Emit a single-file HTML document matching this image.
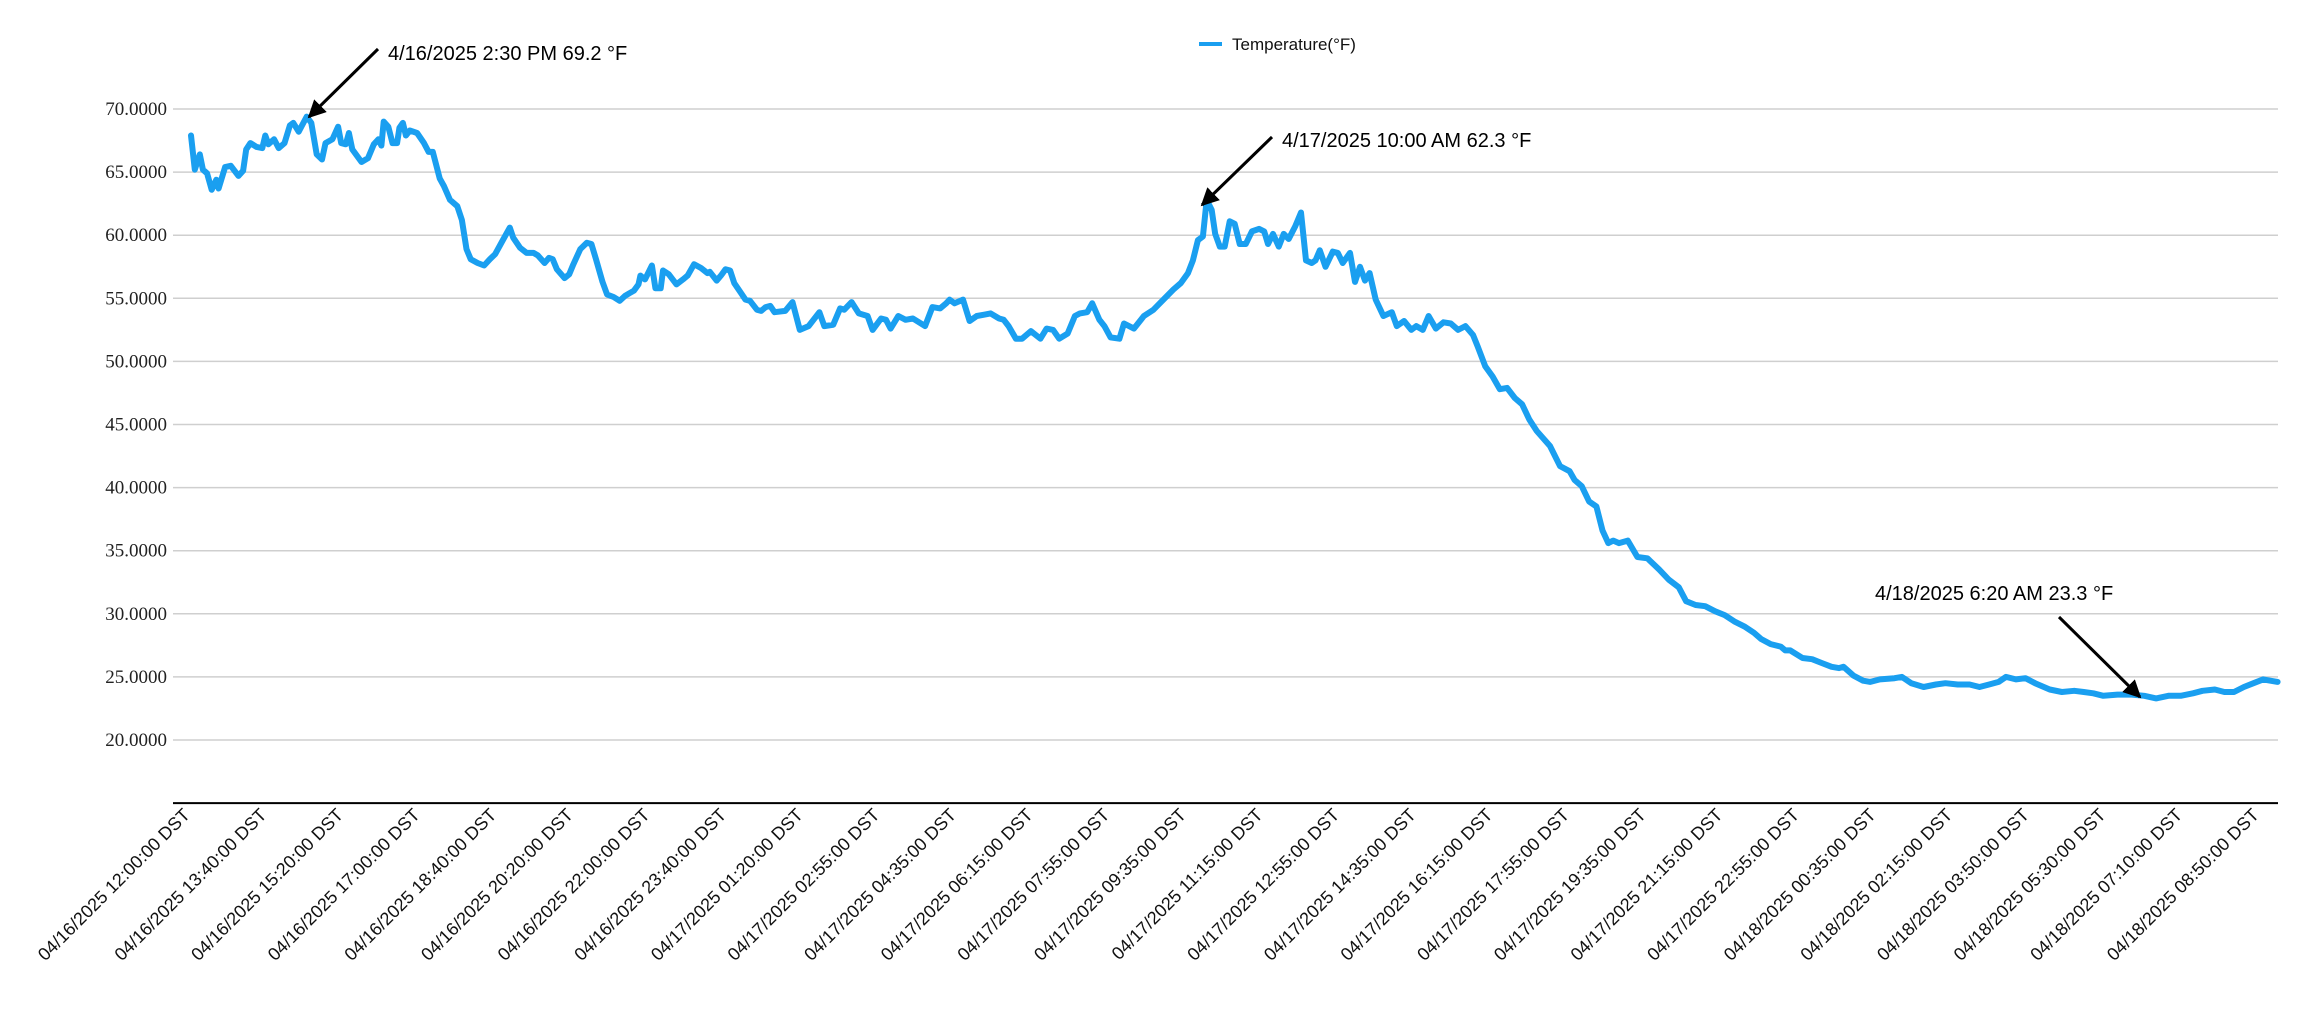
<!DOCTYPE html>
<html><head><meta charset="utf-8"><title>Temperature chart</title>
<style>html,body{margin:0;padding:0;background:#fff}svg{display:block}</style></head>
<body>
<svg id="chart" width="2312" height="1018" viewBox="0 0 2312 1018" xmlns="http://www.w3.org/2000/svg">
<g id="grid"></g>
<g id="yaxis"></g>
<g id="xaxis"></g>
<g id="series"></g>
<g>
<line x1="1199" y1="44" x2="1222" y2="44" stroke="#1a9ff0" stroke-width="4"/>
<text x="1232" y="50" font-family="Liberation Sans, sans-serif" font-size="17" fill="#111">Temperature(°F)</text>
</g>
<g id="ann"></g>
</svg>
<script>
const yTicks = [20,25,30,35,40,45,50,55,60,65,70];
const xLabels = ["04/16/2025 12:00:00 DST","04/16/2025 13:40:00 DST","04/16/2025 15:20:00 DST","04/16/2025 17:00:00 DST","04/16/2025 18:40:00 DST","04/16/2025 20:20:00 DST","04/16/2025 22:00:00 DST","04/16/2025 23:40:00 DST","04/17/2025 01:20:00 DST","04/17/2025 02:55:00 DST","04/17/2025 04:35:00 DST","04/17/2025 06:15:00 DST","04/17/2025 07:55:00 DST","04/17/2025 09:35:00 DST","04/17/2025 11:15:00 DST","04/17/2025 12:55:00 DST","04/17/2025 14:35:00 DST","04/17/2025 16:15:00 DST","04/17/2025 17:55:00 DST","04/17/2025 19:35:00 DST","04/17/2025 21:15:00 DST","04/17/2025 22:55:00 DST","04/18/2025 00:35:00 DST","04/18/2025 02:15:00 DST","04/18/2025 03:50:00 DST","04/18/2025 05:30:00 DST","04/18/2025 07:10:00 DST","04/18/2025 08:50:00 DST"];
const pointIndex = [0,1,2.3,3.1,4.2,5.4,6.6,7.2,8.9,10.4,12.4,13.6,14.4,15.5,17.1,18.6,19.4,20.2,21.7,22.9,24.4,25.8,26.7,28.1,30.2,31.4,32.8,34.2,35.1,36.9,38.4,39.2,40.4,41.2,42.1,44.5,46.2,47.7,48.9,49.7,50.3,51.5,52.6,53.8,54.4,55.3,56.1,57.1,59,60.8,62,63.1,64.9,66,67.6,69.5,70.7,71.9,73,74.8,76.5,78,79.4,81.2,83.2,84.1,85.9,87.6,89.4,90.5,92.3,93.4,94.4,95.5,97.5,98.7,99.8,101.6,103.3,104.5,105.7,107.4,108.6,110.3,111.9,113.3,114.4,115.6,116.8,117.3,118.5,120.3,121.2,122.6,123.2,124.7,126.7,128.4,129.6,131.3,133.1,134.8,135.4,137.2,138.3,139.5,140.7,141.8,143.6,144.7,145.9,147.7,148.8,150,151.2,152.3,
155.1,157,158.9,161.2,164,165.3,167.6,169.4,170.5,172.4,174.3,176.6,177.9,180.1,181.4,182.6,184.6,186.5,188.4,191.6,193.5,195.5,197.1,198,199.3,201.5,203.2,205.1,207,208.7,210.9,212.1,213.4,215.3,216.9,219.2,221.7,223.3,225,226.6,228.8,230.7,232,233.9,235.2,237.1,238.4,240,242.3,243.5,246.1,248.7,251.2,253.8,256.4,258.3,260.2,261.5,262.8,264.1,265.1,266.4,267.3,268.5,269.8,271.1,272.4,273.7,275.3,276.9,278.8,280.1,281.1,282.4,283.9,285.2,286.5,288.2,289.7,291,292.5,293.5,294.6,296.1,298,299.3,300.6,302.5,303.8,305.1,306.4,307.6,309.2,311.2,313.4,314.7,316.6,318.5,319.8,321.5,323,324.9,326.9,328.8,330.7,332.6,334.6,335.8,337.8,339.7,341.6,343.5,345.5,347.4,349.3,351.2,
354.7,357.3,359.8,361.1,363,364.9,366.8,368.4,369.9,371.2,372.7,375,377.5,380.1,383.2,385.7,388.3,390.2,392.7,395.2,397.8,400.3,402.8,405.4,407.9,409.8,412.3,414.9,416.1,417.4,420.6,423.1,425.6,428.2,430.1,431.3,433.9,436.4,438.3,440.8,444.6,446.5,449,452.2,455.4,457.9,461.1,464.2,466.8,469.3,471.8,473.7,476.3,478.8,481.3,485.1,488.3,491.5,494,496.5,499.1,502.8,506.6,509.8,512.9,516.1,519.3,522.5,525,528.2,530.7,533.2,535.8,538.3,540.8,544.6];
const temps = [67.9,65.2,66.4,65.2,64.9,63.6,64.4,63.7,65.4,65.5,64.7,65.1,66.8,67.3,67,66.9,67.9,67.2,67.6,66.9,67.3,68.7,68.9,68.2,69.4,68.9,66.4,66,67.3,67.6,68.6,67.3,67.2,68.1,66.8,65.8,66.1,67.2,67.6,67.1,69,68.6,67.3,67.3,68.5,68.9,67.9,68.3,68.1,67.3,66.6,66.6,64.5,63.9,62.8,62.3,61.2,58.9,58.1,57.8,57.6,58.1,58.5,59.5,60.6,59.8,59,58.6,58.6,58.4,57.8,58.2,58.1,57.3,56.6,56.9,57.7,58.9,59.4,59.3,58.1,56.3,55.3,55.1,54.8,55.2,55.4,55.6,56.1,56.8,56.5,57.6,55.8,55.8,57.2,56.9,56.1,56.5,56.8,57.7,57.4,57,57.1,56.4,56.8,57.3,57.2,56.2,55.4,54.9,54.8,54.1,54,54.3,54.4,53.9,54,
54.7,52.5,52.8,53.9,52.8,52.9,54.2,54.1,54.7,53.8,53.6,52.5,53.4,53.3,52.6,53.6,53.3,53.4,52.8,54.3,54.2,54.6,54.9,54.6,54.9,53.2,53.6,53.7,53.8,53.4,53.3,52.8,51.8,51.8,52.4,51.8,52.6,52.5,51.8,52.2,53.6,53.8,53.9,54.6,53.3,52.8,51.9,51.8,53,52.6,53.6,54.1,54.9,55.7,56.2,57,58,59.6,59.9,62.8,62,60.1,59.1,59.1,61.1,60.9,59.3,59.3,60.3,60.5,60.3,59.3,60.1,59.1,60.1,59.7,60.7,61.8,58,57.8,58,58.8,57.5,58.7,58.6,57.8,58.6,56.3,57.5,56.4,57,54.9,53.6,53.9,52.8,53.2,52.5,52.8,52.5,53.6,52.6,53.1,53,52.5,52.8,52.1,51.2,49.6,48.8,47.8,47.9,47.1,46.6,45.4,44.5,43.3,
41.7,41.3,40.6,40.1,38.9,38.5,36.6,35.6,35.8,35.6,35.8,34.5,34.4,33.5,32.7,32.1,31,30.7,30.6,30.2,29.9,29.4,29,28.5,28,27.6,27.4,27.1,27.1,26.5,26.4,26.1,25.8,25.7,25.8,25.1,24.7,24.6,24.8,24.9,25,24.5,24.2,24.4,24.5,24.4,24.4,24.2,24.4,24.6,25,24.8,24.9,24.5,24,23.8,23.9,23.8,23.7,23.5,23.6,23.6,23.5,23.3,23.5,23.5,23.7,23.9,24,23.8,23.8,24.2,24.5,24.8,24.6,24.7];

const NS = "http://www.w3.org/2000/svg";
const plotL = 173, plotR = 2278, firstX = 191, labelStep = 76.63, ptsPerLabel = 20;
function yScale(v){ return 109 + (70 - v) * 12.62; }
function xScale(i){ return firstX + i * (labelStep / ptsPerLabel); }
function mk(tag, attrs, parent){ const e = document.createElementNS(NS, tag); for (const k in attrs) e.setAttribute(k, attrs[k]); parent.appendChild(e); return e; }

const grid = document.getElementById('grid'), yaxis = document.getElementById('yaxis'), xaxis = document.getElementById('xaxis');
yTicks.forEach(t => {
  const y = yScale(t);
  const gl = mk('line', {x1: plotL, x2: plotR, y1: y, y2: y, stroke: '#cfcfcf', 'stroke-width': 1.5}, grid);
  
  
  const tx = mk('text', {x: 167, y: y + 6, 'text-anchor': 'end', 'font-family': 'Liberation Serif, serif', 'font-size': 19, fill: '#222'}, yaxis);
  tx.textContent = t.toFixed(4);
  
  
});
const ax = mk('line', {x1: plotL, x2: plotR, y1: yScale(15), y2: yScale(15), stroke: '#000', 'stroke-width': 2}, xaxis);


xLabels.forEach((lab, i) => {
  const x = xScale(i * ptsPerLabel), y = 816;
  const tx = mk('text', {x: x, y: y, 'text-anchor': 'end', 'font-family': 'Liberation Sans, sans-serif', 'font-size': 18, fill: '#111', transform: `rotate(-45 ${x} ${y})`}, xaxis);
  tx.textContent = lab;
  
  
});
const d = pointIndex.map((p, i) => (i ? 'L' : 'M') + xScale(p).toFixed(1) + ' ' + yScale(temps[i]).toFixed(1)).join(' ');
const path = mk('path', {d: d, fill: 'none', stroke: '#1a9ff0', 'stroke-width': 6, 'stroke-linejoin': 'round', 'stroke-linecap': 'round'}, document.getElementById('series'));



const ann = document.getElementById('ann');
const defs = mk('defs', {}, ann);
const mrk = mk('marker', {id: 'ah', viewBox: '0 0 10 10', refX: 9, refY: 5, markerWidth: 6, markerHeight: 6, orient: 'auto'}, defs);
mk('path', {d: 'M0 0 L10 5 L0 10 Z', fill: '#000'}, mrk);
const notes = [
  {text: '4/16/2025 2:30 PM 69.2 °F', tx: 388, ty: 60, x1: 378, y1: 49, x2: 309, y2: 117},
  {text: '4/17/2025 10:00 AM 62.3 °F', tx: 1282, ty: 147, x1: 1272, y1: 137, x2: 1202, y2: 205},
  {text: '4/18/2025 6:20 AM 23.3 °F', tx: 1875, ty: 600, x1: 2059, y1: 617, x2: 2140, y2: 697}
];
notes.forEach(n => {
  const l = mk('line', {x1: n.x1, y1: n.y1, x2: n.x2, y2: n.y2, stroke: '#000', 'stroke-width': 3, 'marker-end': 'url(#ah)'}, ann);
  
  
  const t = mk('text', {x: n.tx, y: n.ty, 'font-family': 'Liberation Sans, sans-serif', 'font-size': 20, fill: '#000'}, ann);
  t.textContent = n.text;
  
  
});
</script>
</body></html>
